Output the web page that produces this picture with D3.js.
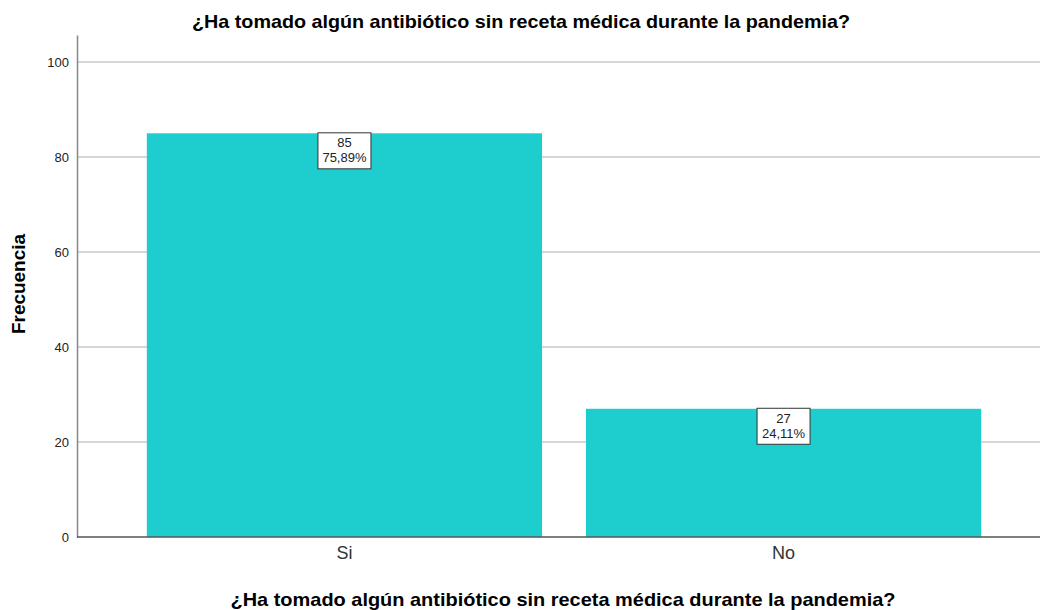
<!DOCTYPE html>
<html>
<head>
<meta charset="utf-8">
<script src="https://cdn.jsdelivr.net/npm/d3@7"></script>
<style>
  body { margin: 0; background: #fff; }
  text { font-family: "Liberation Sans", Arial, sans-serif; }
</style>
</head>
<body>
<svg id="chart"></svg>
<script>
const categories = ["Si", "No"];
const counts = [85, 27];
const percents = ["75,89%", "24,11%"];
const yTicks = [0, 20, 40, 60, 80, 100];
const titleText = "¿Ha tomado algún antibiótico sin receta médica durante la pandemia?";

const dimensions = {
  width: 1040,
  height: 610,
  margin: { top: 35, bottom: 73, left: 77, right: 0 }
};

const svg = d3.select("#chart")
  .attr("width", dimensions.width)
  .attr("height", dimensions.height);

const plotBottom = dimensions.height - dimensions.margin.bottom;

const xScale = d3.scaleBand()
  .domain(categories)
  .range([88, dimensions.width])
  .paddingInner(0.1)
  .paddingOuter(0.134);

const yScale = d3.scaleLinear()
  .domain([0, 105.7])
  .range([plotBottom, dimensions.margin.top]);

// grid lines
svg.append("g")
  .selectAll("line")
  .data(yTicks.filter(d => d > 0))
  .enter()
  .append("line")
  .attr("x1", dimensions.margin.left)
  .attr("x2", dimensions.width)
  .attr("y1", d => yScale(d))
  .attr("y2", d => yScale(d))
  .attr("stroke", "#d6d6d6")
  .attr("stroke-width", 2);

// bars
svg.append("g")
  .selectAll("rect")
  .data(categories)
  .enter()
  .append("rect")
  .attr("x", d => xScale(d))
  .attr("width", xScale.bandwidth())
  .attr("y", (d, i) => yScale(counts[i]))
  .attr("height", (d, i) => plotBottom - yScale(counts[i]))
  .attr("fill", "#1ecdcd");

// y axis
const axisY = d3.axisLeft(yScale).tickValues(yTicks).tickSize(0).tickPadding(8);
const gy = svg.append("g")
  .attr("transform", `translate(${dimensions.margin.left},0)`)
  .call(axisY);
gy.select(".domain").attr("stroke", "#888").attr("stroke-width", 1.5);
gy.selectAll("text").attr("font-size", 13).attr("fill", "#222")
  .attr("font-family", "Liberation Sans, Arial, sans-serif");

// x axis
const axisX = d3.axisBottom(xScale).tickSize(0).tickPadding(9);
const gx = svg.append("g")
  .attr("transform", `translate(0,${plotBottom})`)
  .call(axisX);
gx.select(".domain")
  .attr("d", `M${dimensions.margin.left},0H${dimensions.width}`)
  .attr("stroke", "#555")
  .attr("stroke-width", 1.5);
gx.selectAll("text").attr("font-size", 18).attr("fill", "#333")
  .attr("font-family", "Liberation Sans, Arial, sans-serif");

// value labels
const labels = svg.append("g")
  .selectAll("g")
  .data(categories)
  .enter()
  .append("g")
  .attr("transform", (d, i) =>
    `translate(${xScale(d) + xScale.bandwidth() / 2},${yScale(counts[i])})`);

labels.append("rect")
  .attr("x", -26.5)
  .attr("y", -0.5)
  .attr("width", 53)
  .attr("height", 36)
  .attr("fill", "#fff")
  .attr("stroke", "#333")
  .attr("stroke-width", 1);

labels.append("text")
  .attr("text-anchor", "middle")
  .attr("y", 14)
  .attr("font-size", 13)
  .attr("fill", "#222")
  .text((d, i) => counts[i]);

labels.append("text")
  .attr("text-anchor", "middle")
  .attr("y", 29)
  .attr("font-size", 13)
  .attr("fill", "#222")
  .text((d, i) => percents[i]);

// titles
svg.append("text")
  .attr("x", 521)
  .attr("y", 28)
  .attr("text-anchor", "middle")
  .attr("font-size", 19)
  .attr("font-weight", "bold")
  .attr("textLength", 658)
  .attr("lengthAdjust", "spacingAndGlyphs")
  .text(titleText);

svg.append("text")
  .attr("x", 563)
  .attr("y", 606)
  .attr("text-anchor", "middle")
  .attr("font-size", 19)
  .attr("font-weight", "bold")
  .attr("textLength", 665)
  .attr("lengthAdjust", "spacingAndGlyphs")
  .text(titleText);

svg.append("text")
  .attr("text-anchor", "middle")
  .attr("transform", "translate(25,284)rotate(-90)")
  .attr("font-size", 19)
  .attr("font-weight", "bold")
  .attr("textLength", 100)
  .attr("lengthAdjust", "spacingAndGlyphs")
  .text("Frecuencia");
</script>
</body>
</html>
